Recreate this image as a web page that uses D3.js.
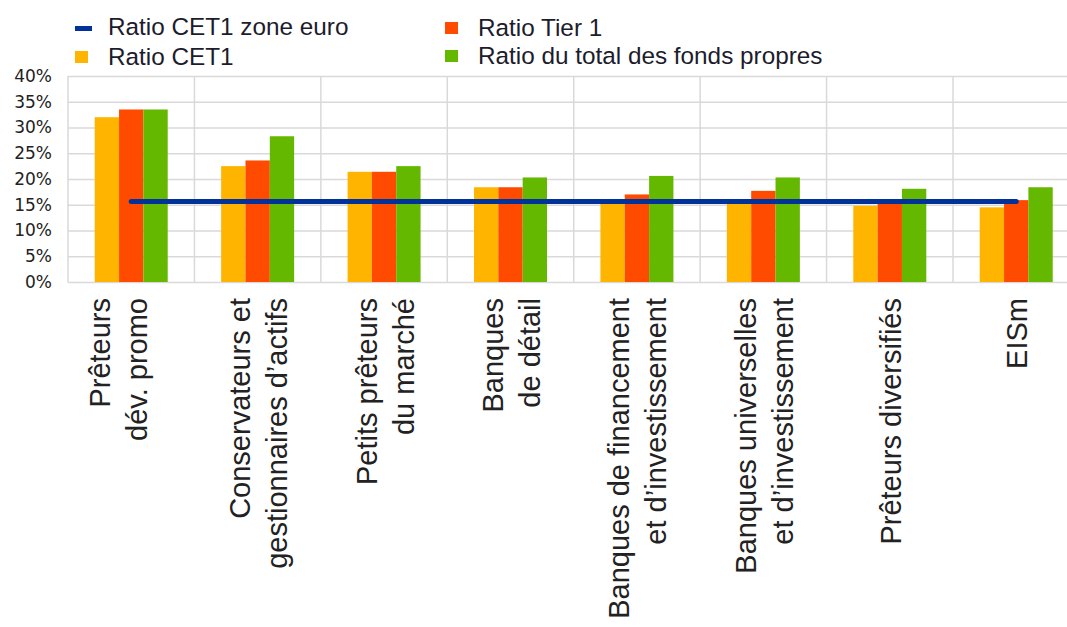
<!DOCTYPE html>
<html>
<head>
	<meta charset="utf-8">
	<title>Ratios de fonds propres par modèle d'activité</title>
	<script src="https://d3js.org/d3.v7.min.js" type="text/javascript"></script>
	<style>
		body { margin: 0; background: #fff; }
		svg { display: block; }
		.grid line { stroke: #d9d9d9; stroke-width: 1.5; }
		.grid .domain { display: none; }
		.yaxis text { font-family: "DejaVu Sans", sans-serif; font-size: 17px; fill: #222; }
		.yaxis .domain, .yaxis line { display: none; }
		.legend text { font-family: "Liberation Sans", Arial, sans-serif; font-size: 24.3px; fill: #1c1c2c; }
		.xlab { font-family: "Liberation Sans", Arial, sans-serif; font-size: 29px; fill: #222; }
	</style>
</head>
<body>
	<script type="text/javascript">
		// Categories (each entry = lines of the rotated label)
		var categories = [
			["Prêteurs", "dév. promo"],
			["Conservateurs et", "gestionnaires d’actifs"],
			["Petits prêteurs", "du marché"],
			["Banques", "de détail"],
			["Banques de financement", "et d’investissement"],
			["Banques universelles", "et d’investissement"],
			["Prêteurs diversifiés"],
			["EISm"]
		];
		var seriesNames = ["Ratio CET1", "Ratio Tier 1", "Ratio du total des fonds propres"];
		var cet1 = [32.0, 22.5, 21.4, 18.4, 15.3, 15.3, 14.8, 14.5];
		var tier1 = [33.5, 23.6, 21.4, 18.4, 17.0, 17.7, 15.4, 15.9];
		var totalCapital = [33.5, 28.3, 22.5, 20.3, 20.6, 20.3, 18.1, 18.4];
		var euroAreaCet1 = 15.65;
		var lineName = "Ratio CET1 zone euro";
		var yTicks = [0, 5, 10, 15, 20, 25, 30, 35, 40];
		var colors = ["#ffb400", "#ff4b00", "#65b800"];
		var lineColor = "#003299";

		var width = 1067, height = 627;
		var plotLeft = 68, plotTop = 76, plotBottom = 282;
		var step = 126.43;
		var plotRight = plotLeft + step * categories.length;

		var svg = d3.select("body").append("svg")
			.attr("width", width)
			.attr("height", height);

		var x = d3.scaleBand()
			.domain(d3.range(categories.length))
			.range([plotLeft, plotRight])
			.padding(0);
		var groupW = 73;
		var x1 = d3.scaleBand()
			.domain(d3.range(3))
			.range([0, groupW]);
		var y = d3.scaleLinear()
			.domain([0, 40])
			.range([plotBottom, plotTop]);

		// horizontal gridlines
		svg.append("g")
			.attr("class", "grid")
			.attr("transform", "translate(" + plotLeft + ",0)")
			.call(d3.axisLeft(y).tickValues(yTicks).tickSize(-(plotRight - plotLeft)).tickFormat(""));

		// vertical gridlines at category boundaries
		svg.append("g").attr("class", "grid")
			.selectAll("line")
			.data(d3.range(categories.length + 1))
			.enter().append("line")
			.attr("x1", function(i) { return i < categories.length ? x(i) : plotRight; })
			.attr("x2", function(i) { return i < categories.length ? x(i) : plotRight; })
			.attr("y1", y(40))
			.attr("y2", y(0));

		// y labels
		svg.append("g")
			.attr("class", "yaxis")
			.attr("transform", "translate(52,0)")
			.call(d3.axisLeft(y).tickValues(yTicks).tickSize(0).tickPadding(0)
				.tickFormat(function(d) { return d + "%"; }));

		// bars
		var series = [cet1, tier1, totalCapital];
		var groups = svg.append("g").selectAll("g")
			.data(categories)
			.enter().append("g")
			.attr("transform", function(d, i) {
				return "translate(" + (x(i) + (x.bandwidth() - groupW) / 2) + ",0)";
			});
		groups.selectAll("rect")
			.data(function(d, i) { return series.map(function(s) { return s[i]; }); })
			.enter().append("rect")
			.attr("x", function(d, j) { return x1(j); })
			.attr("width", x1.bandwidth())
			.attr("y", function(d) { return y(d); })
			.attr("height", function(d) { return y(0) - y(d); })
			.attr("fill", function(d, j) { return colors[j]; });

		// euro area CET1 line
		var line = d3.line()
			.x(function(d) { return x(d) + x.bandwidth() / 2; })
			.y(function() { return y(euroAreaCet1); });
		svg.append("path")
			.datum([0, categories.length - 1])
			.attr("d", line)
			.attr("fill", "none")
			.attr("stroke", lineColor)
			.attr("stroke-width", 5)
			.attr("stroke-linecap", "round");

		// rotated category labels (first one sits a bit further left in the original)
		var labels = svg.append("g").selectAll("text")
			.data(categories)
			.enter().append("text")
			.attr("class", "xlab")
			.attr("text-anchor", "end")
			.attr("transform", function(d, i) {
				var cx = x(i) + x.bandwidth() / 2 - (i === 0 ? 14 : 0);
				return "translate(" + cx + ",298) rotate(-90)";
			});
		labels.selectAll("tspan")
			.data(function(d) { return d.map(function(t, k) { return { t: t, k: k, n: d.length }; }); })
			.enter().append("tspan")
			.attr("x", 0)
			.attr("y", function(d) { return (d.k - (d.n - 1) / 2) * 37 + 11; })
			.text(function(d) { return d.t; });

		// legend
		var legend = svg.append("g").attr("class", "legend");
		var items = [
			{ name: lineName, color: lineColor, line: true, x: 75, y: 27 },
			{ name: seriesNames[0], color: colors[0], x: 75, y: 57 },
			{ name: seriesNames[1], color: colors[1], x: 445, y: 28 },
			{ name: seriesNames[2], color: colors[2], x: 445, y: 56 }
		];
		items.forEach(function(it) {
			if (it.line) {
				legend.append("rect").attr("x", it.x).attr("y", it.y - 1)
					.attr("width", 17).attr("height", 5).attr("fill", it.color);
			} else {
				legend.append("rect").attr("x", it.x).attr("y", it.y - 6)
					.attr("width", 13).attr("height", 12).attr("fill", it.color);
			}
			legend.append("text")
				.attr("x", it.x + 33)
				.attr("y", it.y + 8)
				.text(it.name);
		});
	</script>
</body>
</html>
